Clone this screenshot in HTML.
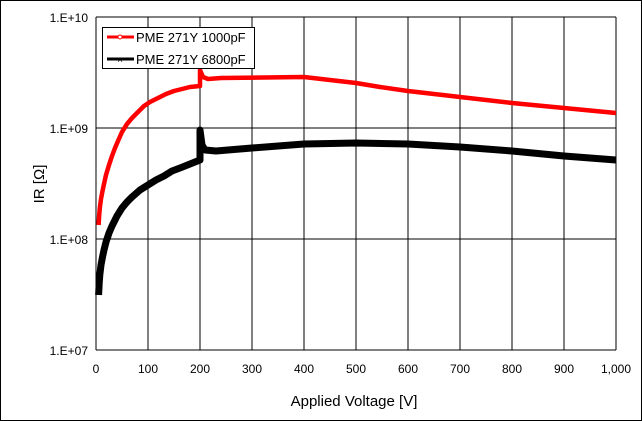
<!DOCTYPE html>
<html><head><meta charset="utf-8"><style>
body{margin:0;background:#fff}
svg{display:block;font-family:"Liberation Sans",sans-serif}
</style></head><body>
<svg width="642" height="421" viewBox="0 0 642 421">
<rect x="0.5" y="0.5" width="641" height="420" fill="#fff" stroke="#000"/>
<g stroke="#000" stroke-width="1">
<line x1="96" y1="17" x2="616" y2="17"/>
<line x1="96" y1="128" x2="616" y2="128"/>
<line x1="96" y1="239" x2="616" y2="239"/>
<line x1="96" y1="350" x2="616" y2="350"/>
<line x1="96" y1="17" x2="96" y2="350"/>
<line x1="148" y1="17" x2="148" y2="350"/>
<line x1="200" y1="17" x2="200" y2="350"/>
<line x1="252" y1="17" x2="252" y2="350"/>
<line x1="304" y1="17" x2="304" y2="350"/>
<line x1="356" y1="17" x2="356" y2="350"/>
<line x1="408" y1="17" x2="408" y2="350"/>
<line x1="460" y1="17" x2="460" y2="350"/>
<line x1="512" y1="17" x2="512" y2="350"/>
<line x1="564" y1="17" x2="564" y2="350"/>
<line x1="616" y1="17" x2="616" y2="350"/>
</g>
<g font-size="12" text-anchor="end" fill="#000">
<text x="88" y="22">1.E+10</text>
<text x="88" y="133">1.E+09</text>
<text x="88" y="244">1.E+08</text>
<text x="88" y="355">1.E+07</text>
</g>
<g font-size="12" text-anchor="middle" fill="#000">
<text x="96" y="373">0</text><text x="148" y="373">100</text><text x="200" y="373">200</text>
<text x="252" y="373">300</text><text x="304" y="373">400</text><text x="356" y="373">500</text>
<text x="408" y="373">600</text><text x="460" y="373">700</text><text x="512" y="373">800</text>
<text x="564" y="373">900</text><text x="616" y="373">1,000</text>
</g>
<text x="354" y="406" font-size="15" text-anchor="middle">Applied Voltage [V]</text>
<text x="0" y="0" font-size="15" text-anchor="middle" transform="translate(44,184) rotate(-90)">IR [Ω]</text>
<polyline fill="none" stroke="#000" stroke-width="7" stroke-linejoin="round" points="98.6,295 99.2,283 99.8,275 101,265 102.5,257 104,250 106,242 109,233 112,226 117,216 122,208 127,202 132,197 140,190 148,185 156,180 164,176 172,171 180,168 190,164 200,160 200,130 202,145 205,150 216,151 252,148 304,144 356,143 408,144 460,147 512,151 564,156 616,160"/>
<polyline fill="none" stroke="#f00" stroke-width="4.5" stroke-linejoin="round" points="98.6,225 99.2,215 99.8,208 101,199 102.5,191 104,184 106,175 109,165 112,156 115,148 118,141 122,132 127,124 132,118 138,112 144,106 150,102 158,98 166,94 174,91 182,89 190,87 200,86 200,70 203,77 208,79 221,78 304,77 356,83 380,87 408,91 460,97 512,103 564,108 616,113"/>
<rect x="102.5" y="27.5" width="152" height="41" fill="#fff" stroke="#000"/>
<line x1="107" y1="37" x2="134" y2="37" stroke="#f00" stroke-width="3"/>
<circle cx="120" cy="37" r="2" fill="#fff" stroke="#f00"/>
<line x1="107" y1="59" x2="134" y2="59" stroke="#000" stroke-width="3"/>
<text x="120" y="63" font-size="10" text-anchor="middle">×</text>
<text x="136" y="42" font-size="13">PME 271Y 1000pF</text>
<text x="136" y="64" font-size="13">PME 271Y 6800pF</text>
</svg>
</body></html>
